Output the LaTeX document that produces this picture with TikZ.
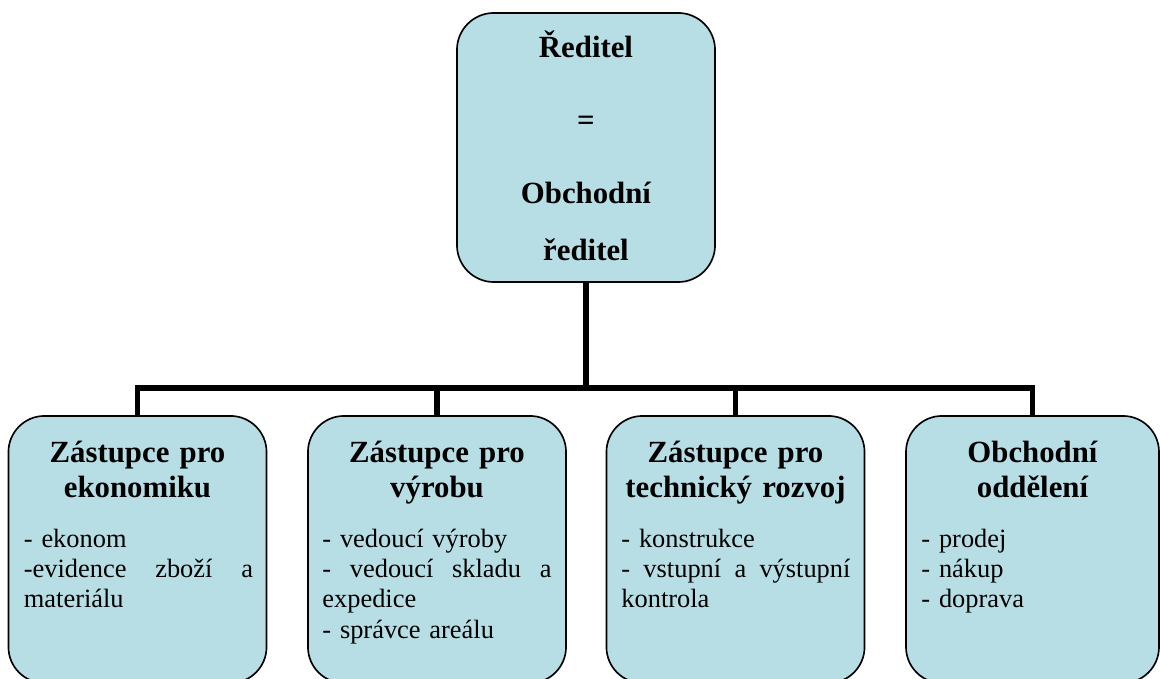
\documentclass[tikz,border=0pt]{standalone}
\usepackage{fontspec}
\setmainfont{Liberation Serif}
\usepackage{xcolor}
\usetikzlibrary{positioning}

\definecolor{boxfill}{RGB}{183,222,228}

\begin{document}
\begin{tikzpicture}[x=0.4545pt, y=-0.4545pt,
    box/.style={draw=black, line width=0.75pt, fill=boxfill, rounded corners=16.4pt,
        inner sep=0pt, minimum width=117.3pt, minimum height=121.4pt},
    head/.style={font=\fontsize{14}{16.1}\selectfont\bfseries, align=center,
        text width=113.6pt, inner sep=0pt, anchor=base},
    item/.style={font=\fontsize{12}{13.8}\selectfont, align=left,
        text width=104.1pt, inner sep=0pt, anchor=base west},
    bus/.style={line width=2.5pt}]
    \useasboundingbox (0,0) rectangle (1160,679);
    \clip (0,0) rectangle (1160,679);

    % Reditel
    \node[box, rounded corners=16.8pt, minimum height=122.3pt] (reditel) at (586,147.5) {};
    \node[head] (rT1) at (586,58) {Ředitel};
    \node[head] (rT2) at (586,130.5) {=};
    \node[head] (rT3) at (586,203) {Obchodní};
    \node[head] (rT4) at (586,260) {ředitel};

    % Zastupci
    \node[box] (econ) at (137.5,549.5) {};
    \node[box] (vyroba) at (437,549.5) {};
    \node[box] (tech) at (735.5,549.5) {};
    \node[box, minimum width=115pt] (obch) at (1032.5,549.5) {};

    \node[head] (econHead) at (137.5,462) {Zástupce pro\\ekonomiku};
    \node[item] (econItems) at (23.5,547) {- ekonom\\-evidence\hfill zboží\hfill a\\materiálu};

    \node[head] (vyrobaHead) at (437,462) {Zástupce pro\\výrobu};
    \node[item] (vyrobaItems) at (322,547) {- vedoucí výroby\\-\hfill vedoucí\hfill skladu\hfill a\\expedice\\- správce areálu};

    \node[head] (techHead) at (735.5,462) {Zástupce pro\\technický rozvoj};
    \node[item] (techItems) at (621,547) {- konstrukce\\-\hfill vstupní\hfill a\hfill výstupní\\kontrola};

    \node[head] (obchHead) at (1032.5,462) {Obchodní\\oddělení};
    \node[item] (obchItems) at (921,547) {- prodej\\- nákup\\- doprava};

    % Spojnice
    \coordinate (bus) at (586,388);
    \draw[bus] (reditel.south) -- (bus);
    \foreach \b in {econ,vyroba,tech,obch}
        \draw[bus] (bus) -| (\b.north);
\end{tikzpicture}
\end{document}
